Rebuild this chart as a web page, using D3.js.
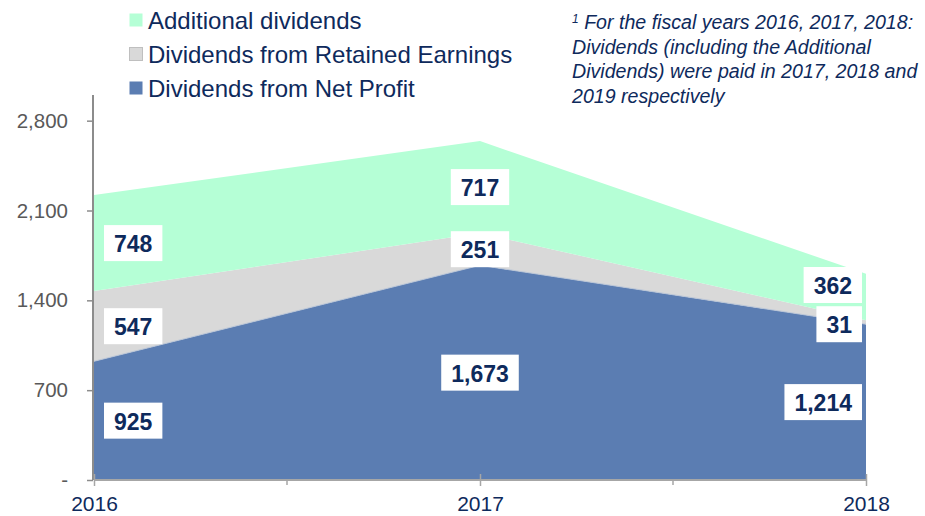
<!DOCTYPE html>
<html>
<head>
<meta charset="utf-8">
<script src="https://cdn.jsdelivr.net/npm/d3@7"></script>
<style>
  html, body { margin: 0; padding: 0; background: #ffffff; }
  svg { display: block; font-family: "Liberation Sans", Arial, sans-serif; }
</style>
</head>
<body>
<svg id="chart" width="925" height="516"></svg>
<script>
// Fiscal years and dividend components (millions)
const years = ["2016", "2017", "2018"];
const netProfit = [925, 1673, 1214];
const retainedEarnings = [547, 251, 31];
const additional = [748, 717, 362];

const seriesNames = ["Dividends from Net Profit", "Dividends from Retained Earnings", "Additional dividends"];
const seriesKeys = ["net", "retained", "additional"];
const yTicks = [0, 700, 1400, 2100, 2800];
const noteLines = [
  "For the fiscal years 2016, 2017, 2018:",
  "Dividends (including the Additional",
  "Dividends) were paid in 2017, 2018 and",
  "2019 respectively"
];

const colors = { net: "#5B7DB2", retained: "#D9D9D9", additional: "#B5FFD6" };
const navy = "#0E2A5C";

const svg = d3.select("#chart");

const x = d3.scalePoint().domain(years).range([94, 866]);
const y = d3.scaleLinear().domain([0, 3000]).range([480, 95]);

const rows = years.map((yr, i) => ({
  year: yr, net: netProfit[i], retained: retainedEarnings[i], additional: additional[i]
}));
const stacked = d3.stack().keys(seriesKeys)(rows);

const area = d3.area()
  .x(d => x(d.data.year))
  .y0(d => y(d[0]))
  .y1(d => y(d[1]));

svg.append("g").selectAll("path")
  .data(stacked)
  .join("path")
  .attr("d", area)
  .attr("fill", d => colors[d.key]);

// thin lighter edge along the top of the net-profit band
svg.append("path")
  .datum(stacked[0])
  .attr("d", d3.line().x(d => x(d.data.year)).y(d => y(d[1])))
  .attr("fill", "none")
  .attr("stroke", "#B8C4D6")
  .attr("stroke-width", 1);

// Y axis
const yAxis = svg.append("g").attr("transform", "translate(93,0)")
  .call(d3.axisLeft(y).tickValues(yTicks).tickSize(6).tickPadding(19)
    .tickFormat(v => v === 0 ? "-" : d3.format(",")(v)));
yAxis.select(".domain").attr("stroke", "#8C8C8C").attr("stroke-width", 2)
  .attr("d", `M0,${y(3000)}V${y(0)}`);
yAxis.selectAll(".tick line").attr("stroke", "#8C8C8C").attr("stroke-width", 1.5);
yAxis.selectAll(".tick text").attr("fill", "#595959").attr("font-size", 20.5);

// X axis
const xAxis = svg.append("g").attr("transform", `translate(0,${y(0)})`)
  .call(d3.axisBottom(x).tickSize(6).tickPadding(10));
xAxis.select(".domain").attr("stroke", "#A6A6A6").attr("stroke-width", 2)
  .attr("d", `M${x(years[0])},0H${x(years[years.length - 1])}`);
xAxis.selectAll(".tick line").attr("stroke", "#A6A6A6").attr("stroke-width", 1.5)
  .attr("y1", -6);
xAxis.selectAll(".tick text").attr("fill", navy).attr("font-size", 21);

// minor ticks halfway between years
const mids = d3.pairs(years).map(([a, b]) => (x(a) + x(b)) / 2);
xAxis.selectAll("line.minor").data(mids).join("line")
  .attr("class", "minor")
  .attr("x1", d => d).attr("x2", d => d)
  .attr("y1", 0).attr("y2", 5)
  .attr("stroke", "#A6A6A6").attr("stroke-width", 1.5);

// Value labels: white boxes centred on each band
const labelFont = 23;
const labelNudge = { "2:retained": 2, "2:additional": -12 };
const labels = [];
stacked.forEach(s => {
  s.forEach((d, i) => {
    labels.push({ key: s.key, i, value: d.data[s.key], mid: (d[0] + d[1]) / 2 });
  });
});
const lg = svg.append("g");
labels.forEach(l => {
  const txt = d3.format(",")(l.value);
  const g = lg.append("g");
  const t = g.append("text")
    .attr("font-size", labelFont).attr("font-weight", "bold")
    .attr("fill", navy).attr("dominant-baseline", "central")
    .attr("text-anchor", "middle")
    .text(txt);
  const w = t.node().getComputedTextLength() + 20;
  const h = 36;
  const px = x(years[l.i]);
  let cx;
  if (l.i === 0) cx = px + 10 + w / 2;
  else if (l.i === years.length - 1) cx = px - 4 - w / 2;
  else cx = px;
  const cy = y(l.mid) + (labelNudge[l.i + ":" + l.key] || 0);
  g.insert("rect", "text")
    .attr("x", cx - w / 2).attr("y", cy - h / 2)
    .attr("width", w).attr("height", h).attr("fill", "#ffffff");
  t.attr("x", cx).attr("y", cy + 1);
});

// Legend (top band listed first)
const legendOrder = [2, 1, 0];
const legend = svg.append("g");
legendOrder.forEach((si, row) => {
  const key = seriesKeys[si];
  const cy = 20 + row * 34;
  legend.append("rect")
    .attr("x", 129.5).attr("y", cy - 6.5).attr("width", 13).attr("height", 13)
    .attr("fill", colors[key])
    .attr("stroke", key === "retained" ? "#BFBFBF" : "none")
    .attr("stroke-width", 1);
  legend.append("text")
    .attr("x", 148).attr("y", cy)
    .attr("dominant-baseline", "central")
    .attr("font-size", 24).attr("fill", navy)
    .text(seriesNames[si]);
});

// Footnote
const note = svg.append("text")
  .attr("font-style", "italic").attr("font-size", 19.6).attr("fill", navy);
noteLines.forEach((line, i) => {
  const ts = note.append("tspan").attr("x", 572).attr("y", 29 + i * 24.5);
  if (i === 0) {
    ts.append("tspan").attr("font-size", 12).attr("dy", -6).text("1");
    ts.append("tspan").attr("dy", 6).text(" " + line);
  } else {
    ts.text(line);
  }
});
</script>
</body>
</html>
